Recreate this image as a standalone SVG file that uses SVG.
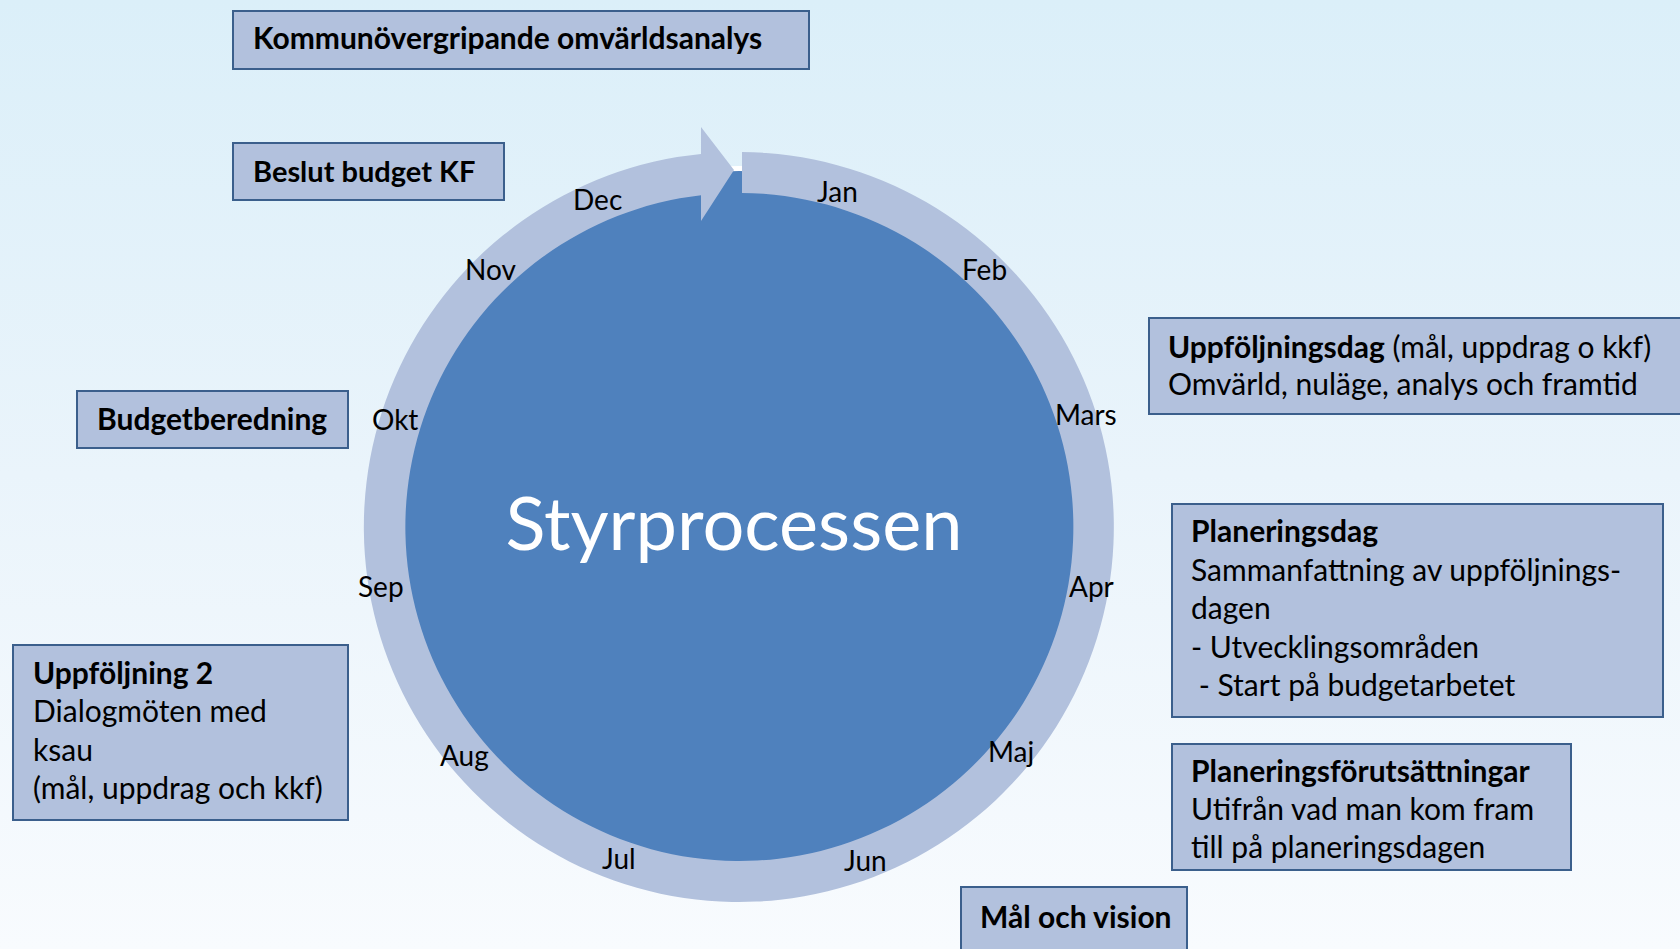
<svg xmlns="http://www.w3.org/2000/svg" width="1680" height="949" viewBox="0 0 1680 949">
<defs>
<linearGradient id="bg" x1="0" y1="0" x2="0" y2="1">
<stop offset="0" stop-color="#DBEFF9"/>
<stop offset="0.5" stop-color="#EAF4FB"/>
<stop offset="1" stop-color="#F8FBFE"/>
</linearGradient>
<style>
.box{fill:#B2C1DD;stroke:#3B5F8C;stroke-width:2}
.t{font-family:Lato,"Open Sans",sans-serif;font-size:30px;fill:#000}
.b{font-weight:bold}
.m{font-family:Lato,"Open Sans",sans-serif;font-size:28px;fill:#000}
</style>
</defs>
<rect x="0" y="0" width="1680" height="949" fill="url(#bg)"/>

<g id="cycle">
<circle cx="739" cy="527" r="358.5" fill="#4F81BD" stroke="#FFFFFF" stroke-width="5"/>
<path d="M 742 152 A 375 375 0 1 1 701 153.9 L 701 127 L 734 170 L 701 221 L 701 195.2 A 334 334 0 1 0 742 193 Z" fill="#B2C1DD"/>
<text x="734" y="550" text-anchor="middle" font-family="Lato,'Open Sans',sans-serif" font-size="74" fill="#FFFFFF">Styrprocessen</text>
</g>

<g id="months">
<text class="m" x="817" y="202">Jan</text>
<text class="m" x="962" y="280">Feb</text>
<text class="m" x="1055" y="425">Mars</text>
<text class="m" x="1069" y="597">Apr</text>
<text class="m" x="988" y="762">Maj</text>
<text class="m" x="844" y="871">Jun</text>
<text class="m" x="602" y="869">Jul</text>
<text class="m" x="440" y="766">Aug</text>
<text class="m" x="358" y="597">Sep</text>
<text class="m" x="372" y="430">Okt</text>
<text class="m" x="465" y="280">Nov</text>
<text class="m" x="573" y="210">Dec</text>
</g>

<g id="connectors"></g>

<g id="n-omvarld">
<rect class="box" x="233" y="11" width="576" height="58"/>
<text class="t b" x="253" y="49">Kommunövergripande omvärldsanalys</text>
</g>
<g id="n-beslut">
<rect class="box" x="233" y="143" width="271" height="57"/>
<text class="t b" x="253" y="182" style="font-size:29px">Beslut budget KF</text>
</g>
<g id="n-budgetberedning">
<rect class="box" x="77" y="391" width="271" height="57"/>
<text class="t b" x="97" y="430">Budgetberedning</text>
</g>
<g id="n-uppfoljning2">
<rect class="box" x="13" y="645" width="335" height="175"/>
<text class="t" x="33"><tspan class="b" x="33" y="684">Uppföljning 2</tspan><tspan x="33" y="722">Dialogmöten med</tspan><tspan x="33" y="761">ksau</tspan><tspan x="33" y="799">(mål, uppdrag och kkf)</tspan></text>
</g>
<g id="n-uppfoljningsdag">
<rect class="box" x="1149" y="318" width="560" height="96"/>
<text class="t" x="1168" y="358"><tspan class="b">Uppföljningsdag</tspan> (mål, uppdrag o kkf)</text>
<text class="t" x="1168" y="395">Omvärld, nuläge, analys och framtid</text>
</g>
<g id="n-planeringsdag">
<rect class="box" x="1172" y="504" width="491" height="213"/>
<text class="t"><tspan class="b" x="1191" y="542">Planeringsdag</tspan><tspan x="1191" y="581">Sammanfattning av uppföljnings-</tspan><tspan x="1191" y="619">dagen</tspan><tspan x="1191" y="658">- Utvecklingsområden</tspan><tspan x="1191" y="696"> - Start på budgetarbetet</tspan></text>
</g>
<g id="n-planeringsforutsattningar">
<rect class="box" x="1172" y="744" width="399" height="126"/>
<text class="t"><tspan class="b" x="1191" y="782">Planeringsförutsättningar</tspan><tspan x="1191" y="820">Utifrån vad man kom fram</tspan><tspan x="1191" y="858">till på planeringsdagen</tspan></text>
</g>
<g id="n-mal">
<rect class="box" x="961" y="887" width="226" height="80"/>
<text class="t b" x="980" y="928">Mål och vision</text>
</g>
</svg>
